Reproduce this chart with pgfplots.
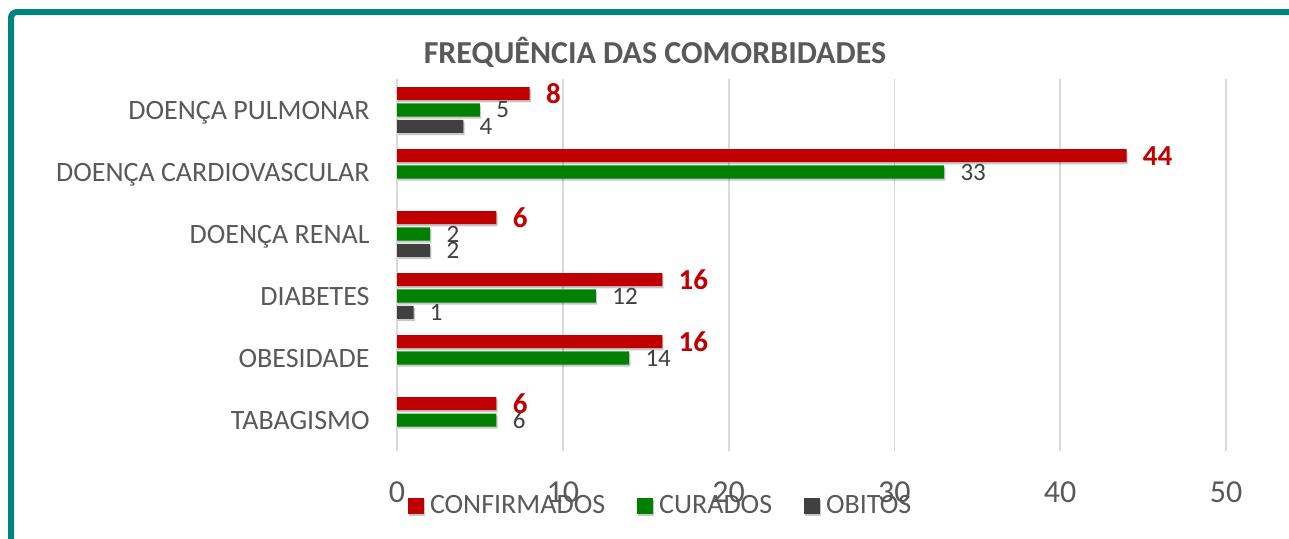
\documentclass[border=0pt]{standalone}
\usepackage{pgfplots}
\pgfplotsset{compat=1.18}
\usepackage{fontspec}
\setmainfont{Carlito}
\definecolor{cRed}{HTML}{C00000}
\definecolor{cGreen}{HTML}{008000}
\definecolor{cGray}{HTML}{404040}
\definecolor{txt}{HTML}{595959}
\definecolor{gridc}{HTML}{D9D9D9}
\definecolor{framec}{HTML}{00847F}
\begin{document}
\begin{tikzpicture}
\useasboundingbox (0,0) rectangle (644.5pt,269pt);
\draw[framec, line width=3pt, rounded corners=3pt] (5.5pt,-10pt) -- (5.5pt,263pt) -- (660pt,263pt);
\begin{axis}[
  at={(198.5pt,43.5pt)}, anchor=south west,
  scale only axis, width=414.5pt, height=186pt,
  xbar, xmin=0, xmax=50, ymin=-0.5, ymax=5.5,
  axis lines=left, axis line style={draw=none},
  xtick={0,10,...,50}, ytick={0,...,5},
  yticklabels={TABAGISMO,OBESIDADE,DIABETES,DOENÇA RENAL,DOENÇA CARDIOVASCULAR,DOENÇA PULMONAR},
  major tick length=0pt,
  xmajorgrids, major grid style={gridc, line width=0.9pt},
  /pgf/number format/assume math mode=true,
  tick label style={text=txt},
  xticklabel style={font=\fontsize{16}{19}\selectfont, anchor=center, inner sep=0pt, yshift=-20.5pt},
  yticklabel style={font=\fontsize{14}{17}\selectfont, anchor=base east, inner sep=0pt, xshift=-13.5pt, yshift=-4.5pt},
  bar width=0.21,
  nodes near coords,
  nodes near coords style={anchor=west, inner sep=0pt, xshift=8pt, font=\fontsize{12.5}{15}\selectfont, text=cGray},
  legend columns=3,
  legend image code/.code={\fill[#1,draw=none] (0pt,-4pt) rectangle (8pt,4pt);},
  legend style={at={(0.01327,-0.1478)}, anchor=west, draw=none, fill=none, inner sep=0pt, outer sep=0pt,
    font=\fontsize{14}{17}\selectfont, text=txt, nodes={inner sep=0pt},
    /tikz/every odd column/.append style={column sep=3pt},
    /tikz/every even column/.append style={column sep=16pt}},
  title={FREQUÊNCIA DAS COMORBIDADES},
  title style={at={(0.3112,1.01)}, anchor=base, font=\bfseries\fontsize{16}{19}\selectfont, text=txt, inner sep=0pt},
  shadowed/.style={preaction={fill=black, fill opacity=0.22, transform canvas={xshift=0.6pt, yshift=-1.1pt}}},
]
\addplot[fill=cRed, draw=none, bar shift=0.263, shadowed,
  every node near coord/.append style={font=\bfseries\fontsize{14.5}{17}\selectfont, text=cRed}]
  coordinates {(8,5) (44,4) (6,3) (16,2) (16,1) (6,0)};
\addlegendentry{CONFIRMADOS}
\addplot[fill=cGreen, draw=none, bar shift=0, shadowed]
  coordinates {(5,5) (33,4) (2,3) (12,2) (14,1) (6,0)};
\addlegendentry{CURADOS}
\addplot[fill=cGray, draw=none, bar shift=-0.263, shadowed]
  coordinates {(4,5) (2,3) (1,2)};
\addlegendentry{OBITOS}
\end{axis}
\end{tikzpicture}
\end{document}
